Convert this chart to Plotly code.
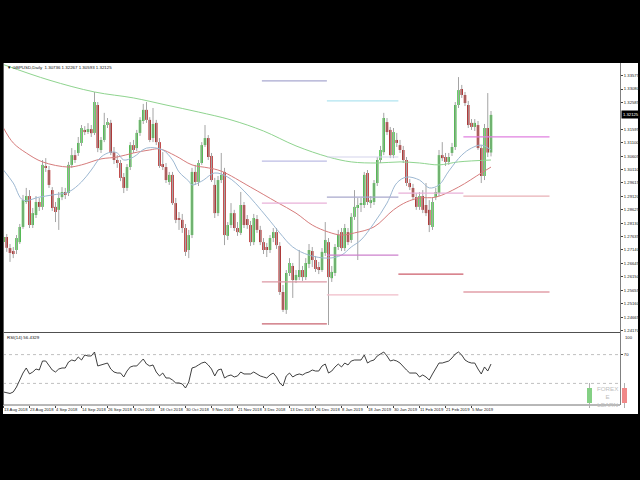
import plotly.graph_objects as go

# ---------------- data ----------------
opens = [1.2743, 1.2762, 1.2721, 1.2710, 1.2714, 1.2743, 1.2799, 1.2891, 1.2913, 1.2806,
         1.2843, 1.2891, 1.2873, 1.3024, 1.3009, 1.2935, 1.2873, 1.2862, 1.2909, 1.2928,
         1.2924, 1.3028, 1.3064, 1.3072, 1.3109, 1.3157, 1.3153, 1.3160, 1.3146, 1.3249,
         1.3083, 1.3120, 1.3175, 1.3183, 1.3075, 1.3046, 1.3035, 1.2983, 1.2943, 1.3020,
         1.3101, 1.3090, 1.3146, 1.3190, 1.3231, 1.3194, 1.3127, 1.3183, 1.3112, 1.3031,
         1.3020, 1.2965, 1.2991, 1.2887, 1.2832, 1.2825, 1.2795, 1.2714, 1.2769, 1.3002,
         1.2965, 1.3035, 1.3101, 1.3127, 1.3061, 1.2954, 1.2850, 1.2972, 1.3002, 1.2766,
         1.2806, 1.2850, 1.2795, 1.2777, 1.2880, 1.2828, 1.2806, 1.2743, 1.2828, 1.2788,
         1.2743, 1.2725, 1.2714, 1.2758, 1.2780, 1.2729, 1.2559, 1.2493, 1.2629, 1.2655,
         1.2603, 1.2614, 1.2640, 1.2614, 1.2662, 1.2710, 1.2677, 1.2651, 1.2640, 1.2703,
         1.2743, 1.2610, 1.2629, 1.2725, 1.2780, 1.2721, 1.2780, 1.2751, 1.2836, 1.2869,
         1.2880, 1.2880, 1.2998, 1.2887, 1.2891, 1.2961, 1.3046, 1.3075, 1.3186, 1.3157,
         1.3064, 1.3120, 1.3101, 1.3083, 1.3046, 1.2961, 1.2943, 1.2909, 1.2873, 1.2913,
         1.2880, 1.2862, 1.2799, 1.2909, 1.2924, 1.3064, 1.3057, 1.3039, 1.3072, 1.3094,
         1.3249, 1.3308, 1.3286, 1.3249, 1.3183, 1.3168, 1.3175, 1.3090, 1.2987, 1.3164,
         1.30736]
highs = [1.2780, 1.2773, 1.2736, 1.2725, 1.2769, 1.2810, 1.2917, 1.2943, 1.2935, 1.2869,
         1.2913, 1.2906, 1.3046, 1.3053, 1.3024, 1.2946, 1.2891, 1.2928, 1.2946, 1.2943,
         1.3039, 1.3090, 1.3083, 1.3131, 1.3175, 1.3171, 1.3182, 1.3175, 1.3297, 1.3260,
         1.3131, 1.3220, 1.3201, 1.3194, 1.3094, 1.3064, 1.3046, 1.2998, 1.3031, 1.3112,
         1.3120, 1.3157, 1.3204, 1.3253, 1.3260, 1.3204, 1.3238, 1.3194, 1.3127, 1.3075,
         1.3035, 1.3002, 1.3002, 1.2906, 1.2854, 1.2847, 1.2810, 1.2788, 1.3017, 1.3028,
         1.3046, 1.3112, 1.3175, 1.3138, 1.3072, 1.2980, 1.2987, 1.3072, 1.3017, 1.2817,
         1.2887, 1.2862, 1.2817, 1.2928, 1.2891, 1.2843, 1.2821, 1.2847, 1.2843, 1.2803,
         1.2758, 1.2740, 1.2769, 1.2795, 1.2795, 1.2743, 1.2585, 1.2640, 1.2684, 1.2666,
         1.2640, 1.2714, 1.2655, 1.2684, 1.2736, 1.2725, 1.2692, 1.2670, 1.2721, 1.2817,
         1.2758, 1.2655, 1.2736, 1.2788, 1.2795, 1.2810, 1.2795, 1.2850, 1.2935, 1.2906,
         1.2906, 1.3002, 1.3009, 1.2913, 1.2972, 1.3057, 1.3098, 1.3220, 1.3201, 1.3168,
         1.3164, 1.3146, 1.3120, 1.3098, 1.3057, 1.2976, 1.2958, 1.2924, 1.2928, 1.2935,
         1.2961, 1.2898, 1.2906, 1.2943, 1.3083, 1.3112, 1.3072, 1.3072, 1.3109, 1.3260,
         1.3352, 1.3323, 1.3297, 1.3264, 1.3197, 1.3197, 1.3190, 1.3101, 1.3179, 1.3293,
         1.32267]
lows = [1.2729, 1.2707, 1.2670, 1.2684, 1.2699, 1.2736, 1.2792, 1.2884, 1.2795, 1.2795,
        1.2832, 1.2858, 1.2862, 1.3002, 1.2943, 1.2858, 1.2817, 1.2788, 1.2898, 1.2902,
        1.2913, 1.3017, 1.3035, 1.3061, 1.3098, 1.3138, 1.3142, 1.3131, 1.3138, 1.3075,
        1.3072, 1.3112, 1.3164, 1.3064, 1.3031, 1.3017, 1.2968, 1.2924, 1.2932, 1.3009,
        1.3072, 1.3079, 1.3135, 1.3179, 1.3183, 1.3112, 1.3112, 1.3101, 1.3017, 1.3009,
        1.2961, 1.2954, 1.2880, 1.2813, 1.2788, 1.2777, 1.2692, 1.2684, 1.2758, 1.2954,
        1.2950, 1.3028, 1.3094, 1.3046, 1.2965, 1.2832, 1.2839, 1.2961, 1.2732, 1.2751,
        1.2795, 1.2784, 1.2766, 1.2769, 1.2795, 1.2792, 1.2729, 1.2732, 1.2777, 1.2732,
        1.2699, 1.2688, 1.2703, 1.2743, 1.2718, 1.2548, 1.2485, 1.2478, 1.2618, 1.2537,
        1.2592, 1.2603, 1.2600, 1.2603, 1.2647, 1.2651, 1.2633, 1.2625, 1.2633, 1.2692,
        1.2437, 1.2596, 1.2618, 1.2714, 1.2710, 1.2710, 1.2732, 1.2740, 1.2825, 1.2677,
        1.2854, 1.2869, 1.2880, 1.2869, 1.2880, 1.2950, 1.3035, 1.3064, 1.3138, 1.3053,
        1.3053, 1.3094, 1.3072, 1.3035, 1.2950, 1.2935, 1.2898, 1.2862, 1.2862, 1.2850,
        1.2839, 1.2780, 1.2788, 1.2898, 1.2913, 1.3042, 1.3024, 1.3028, 1.3061, 1.3083,
        1.3238, 1.3275, 1.3245, 1.3164, 1.3157, 1.3153, 1.3083, 1.2961, 1.2972, 1.3057,
        1.30593]
closes = [1.2762, 1.2722, 1.2703, 1.2699, 1.2758, 1.2799, 1.2898, 1.2913, 1.2806, 1.2850,
          1.2891, 1.2873, 1.3028, 1.3017, 1.2954, 1.2869, 1.2854, 1.2906, 1.2928, 1.2917,
          1.3028, 1.3064, 1.3046, 1.3109, 1.3164, 1.3149, 1.3160, 1.3145, 1.3260, 1.3090,
          1.3120, 1.3175, 1.3186, 1.3072, 1.3046, 1.3035, 1.2980, 1.2943, 1.3020, 1.3101,
          1.3083, 1.3146, 1.3194, 1.3231, 1.3194, 1.3120, 1.3179, 1.3112, 1.3024, 1.3020,
          1.2972, 1.2991, 1.2887, 1.2825, 1.2825, 1.2795, 1.2707, 1.2769, 1.3002, 1.2965,
          1.3035, 1.3101, 1.3127, 1.3057, 1.2972, 1.2850, 1.2972, 1.2991, 1.2769, 1.2806,
          1.2850, 1.2795, 1.2780, 1.2880, 1.2806, 1.2806, 1.2743, 1.2832, 1.2788, 1.2743,
          1.2714, 1.2714, 1.2758, 1.2780, 1.2732, 1.2559, 1.2493, 1.2629, 1.2666, 1.2603,
          1.2622, 1.2640, 1.2614, 1.2666, 1.2714, 1.2677, 1.2644, 1.2640, 1.2707, 1.2751,
          1.2614, 1.2633, 1.2725, 1.2769, 1.2721, 1.2795, 1.2743, 1.2836, 1.2873, 1.2880,
          1.2887, 1.2991, 1.2891, 1.2898, 1.2961, 1.3046, 1.3083, 1.3201, 1.3149, 1.3064,
          1.3149, 1.3109, 1.3083, 1.3046, 1.2961, 1.2946, 1.2909, 1.2873, 1.2913, 1.2862,
          1.2850, 1.2806, 1.2891, 1.2928, 1.3064, 1.3053, 1.3039, 1.3057, 1.3094, 1.3249,
          1.3304, 1.3286, 1.3256, 1.3175, 1.3168, 1.3183, 1.3090, 1.2987, 1.3164, 1.30736,
          1.32125]

rsi = [18.1, 16.7, 16.0, 18.1, 25.0, 34.7, 44.4, 51.4, 43.1, 45.8,
       50.0, 48.6, 61.1, 61.1, 55.6, 48.6, 45.8, 50.0, 51.4, 51.4,
       59.7, 62.5, 61.1, 66.7, 62.5, 69.4, 68.1, 68.1, 73.6, 54.2,
       55.6, 56.9, 58.3, 50.0, 45.8, 44.4, 44.4, 38.9, 47.2, 52.8,
       54.2, 54.2, 59.7, 63.9, 56.9, 54.2, 55.6, 45.8, 40.3, 44.4,
       37.5, 37.5, 34.7, 30.6, 30.6, 29.2, 23.6, 31.9, 51.4, 52.8,
       55.6, 58.3, 59.7, 55.6, 50.0, 40.3, 48.6, 50.0, 37.5, 40.3,
       41.7, 38.9, 40.3, 45.8, 43.1, 43.1, 43.1, 45.8, 43.1, 40.3,
       38.9, 37.5, 41.7, 44.4, 38.9, 30.6, 26.4, 40.3, 44.4, 38.9,
       41.7, 43.1, 41.7, 44.4, 45.8, 48.6, 47.2, 47.2, 54.2, 56.9,
       44.4, 47.2, 52.8, 56.9, 52.8, 58.3, 55.6, 61.1, 62.5, 62.5,
       62.5, 69.4, 58.3, 61.1, 62.5, 68.1, 70.8, 73.6, 68.1, 61.1,
       62.5, 61.1, 58.3, 52.8, 48.6, 44.4, 44.4, 44.4, 38.9, 41.7,
       38.9, 34.7, 43.1, 50.0, 58.3, 58.3, 59.7, 61.1, 65.3, 70.8,
       73.6, 69.4, 62.5, 59.7, 58.3, 58.3, 50.0, 43.1, 52.8, 47.2,
       56.9]
rsi_levels = [70, 30]

ma_green_idx = [0, 14, 28, 40, 50, 60, 70, 80, 90, 100, 107, 115, 122, 128, 134, 140, 150]
ma_green = [1.3398, 1.3341, 1.3297, 1.3275, 1.3249, 1.3223, 1.3194, 1.3153, 1.3098, 1.3057,
            1.3039, 1.3035, 1.3039, 1.3035, 1.3028, 1.3039, 1.3046]
ma_red_idx = [0, 3, 7, 12, 20, 24, 30, 35, 40, 45, 48, 53, 58, 63, 67, 76, 84, 90, 95, 100,
              104, 108, 114, 120, 124, 128, 133, 140, 147, 150]
ma_red = [1.3164, 1.3109, 1.3072, 1.3039, 1.3020, 1.3028, 1.3050, 1.3057, 1.3072, 1.3083,
          1.3087, 1.3061, 1.3028, 1.3017, 1.3005, 1.2946, 1.2891, 1.2850, 1.2806, 1.2780,
          1.2769, 1.2777, 1.2799, 1.2862, 1.2891, 1.2906, 1.2909, 1.2946, 1.2998, 1.3020]
ma_blue_idx = [0, 3, 6, 11, 15, 20, 24, 27, 30, 33, 35, 37, 40, 44, 49, 52, 54, 57, 58, 61,
               65, 69, 74, 81, 85, 89, 94, 100, 104, 107, 110, 114, 118, 121, 124, 128, 131,
               134, 137, 141, 144, 147, 150]
ma_blue = [1.3009, 1.2961, 1.2898, 1.2909, 1.2917, 1.2928, 1.2965, 1.3009, 1.3057, 1.3075,
           1.3072, 1.3046, 1.3057, 1.3090, 1.3083, 1.3046, 1.3002, 1.2968, 1.2954, 1.2968,
           1.2998, 1.2983, 1.2932, 1.2836, 1.2777, 1.2725, 1.2695, 1.2684, 1.2695, 1.2725,
           1.2751, 1.2813, 1.2887, 1.2961, 1.2983, 1.2972, 1.2943, 1.2954, 1.3005, 1.3064,
           1.3090, 1.3101, 1.3083]

pivot_start = [79.5, 99.5, 121.5, 141.5]
pivot_end = [99.5, 121.5, 141.5, 168.0]
pivot_dec = [1.3338, 1.3042, 1.2887, 1.2596, 1.2441]
pivot_jan = [1.3264, 1.3057, 1.2909, 1.2695, 1.2548]
pivot_feb = [1.2924, 1.2625]
pivot_mar = [1.3131, 1.2913, 1.2559]
pivot_colors = [
    ['#a8a8d0', '#bcbce4', '#e8b0d8', '#dc98a4', '#c86470'],
    ['#b0e4f0', '#d4d4ec', '#a8a8cc', '#cc80cc', '#f0bcc8'],
    ['#e8b0d8', '#cc5c6a'],
    ['#e080e0', '#e8b0b6', '#d4707e'],
]

date_idx = list(range(0, 145, 8))
date_labels = ["13 Aug 2018", "23 Aug 2018", "4 Sep 2018", "14 Sep 2018", "26 Sep 2018",
               "8 Oct 2018", "18 Oct 2018", "30 Oct 2018", "9 Nov 2018", "21 Nov 2018",
               "3 Dec 2018", "13 Dec 2018", "26 Dec 2018", "8 Jan 2019", "18 Jan 2019",
               "30 Jan 2019", "11 Feb 2019", "21 Feb 2019", "5 Mar 2019"]
price_ticks = [1.33575, 1.33080, 1.32585, 1.31595, 1.31100, 1.30605, 1.30110, 1.29615,
               1.29120, 1.28625, 1.28130, 1.27635, 1.27140, 1.26645, 1.26150, 1.25655,
               1.25160, 1.24665, 1.24170]
rsi_ticks = [70]
rsi_top_label = "100"
symbol = "GBPUSD,Daily"
rsi_name = "RSI(14) 56.4329"
logo_lines = ["FOREX", "E", "LEARN"]

# ---------------- figure ----------------
def px_x(p):
    return p / 640.0


def px_y(p):
    return 1 - p / 480.0


FONT = "Liberation Sans, Arial, sans-serif"
n = len(closes)
idx = list(range(n))
XR = [-0.154, 189.69]

fig = go.Figure()

# wicks
wx, wy = [], []
for i in idx:
    wx += [i, i, None]
    wy += [lows[i], highs[i], None]
fig.add_trace(go.Scatter(x=wx, y=wy, mode="lines", line=dict(color="#a4a4a4", width=1),
                         hoverinfo="skip", xaxis="x", yaxis="y"))

# moving averages
for xi, yv, col in [(ma_green_idx, ma_green, "#8fd48f"),
                    (ma_red_idx, ma_red, "#d67c7c"),
                    (ma_blue_idx, ma_blue, "#9db8d2")]:
    fig.add_trace(go.Scatter(x=xi, y=yv, mode="lines", line=dict(color=col, width=1, shape="spline"),
                             hoverinfo="skip", xaxis="x", yaxis="y"))

# pivot levels
for m, levels in enumerate([pivot_dec, pivot_jan, pivot_feb, pivot_mar]):
    for k, lv in enumerate(levels):
        fig.add_trace(go.Scatter(x=[pivot_start[m], pivot_end[m]], y=[lv, lv], mode="lines",
                                 line=dict(color=pivot_colors[m][k], width=1.2),
                                 hoverinfo="skip", xaxis="x", yaxis="y"))

# candle bodies
for up, color in [(True, "#3cc03c"), (False, "#b01818")]:
    xs, base, hgt = [], [], []
    for i in idx:
        o, c = opens[i], closes[i]
        if (c >= o) == up:
            xs.append(i)
            base.append(min(o, c))
            hgt.append(max(abs(c - o), 0.00015))
    fig.add_trace(go.Bar(x=xs, y=hgt, base=base, width=0.78,
                         marker=dict(color=color, line=dict(width=0)),
                         hoverinfo="skip", xaxis="x", yaxis="y"))

# RSI
for lv in rsi_levels:
    fig.add_trace(go.Scatter(x=XR, y=[lv, lv], mode="lines",
                             line=dict(color="#c0c0c0", width=1, dash="dot"),
                             hoverinfo="skip", xaxis="x2", yaxis="y2"))
fig.add_trace(go.Scatter(x=idx, y=rsi, mode="lines", line=dict(color="#2a2a2a", width=0.9),
                         hoverinfo="skip", xaxis="x2", yaxis="y2"))

tickfont = dict(family=FONT, size=4.2, color="#202020")
fig.update_layout(
    width=640, height=480, margin=dict(l=0, r=0, t=0, b=0), autosize=False,
    paper_bgcolor="black", plot_bgcolor="white", showlegend=False, barmode="overlay",
    xaxis=dict(domain=[px_x(3), px_x(620)], range=XR, showticklabels=False, showgrid=False,
               zeroline=False, anchor="y", fixedrange=True),
    yaxis=dict(domain=[px_y(332), px_y(64)], range=[1.241133, 1.340025], side="right",
               tickvals=price_ticks, ticktext=["%.5f" % v for v in price_ticks],
               ticks="outside", ticklen=2, tickcolor="#404040", tickfont=tickfont,
               showgrid=False, zeroline=False, anchor="x"),
    xaxis2=dict(domain=[px_x(3), px_x(620)], range=XR, tickvals=date_idx, ticktext=date_labels,
                ticks="outside", ticklen=2, tickcolor="#404040", tickfont=tickfont,
                tickangle=0, ticklabelposition="outside right", showgrid=False, zeroline=False,
                anchor="y2"),
    yaxis2=dict(domain=[px_y(405), px_y(333)], range=[0, 100], side="right",
                tickvals=rsi_ticks, ticktext=[str(v) for v in rsi_ticks],
                ticks="outside", ticklen=2, tickcolor="#404040", tickfont=tickfont,
                showgrid=False, zeroline=False, anchor="x2"),
)

shapes = [
    dict(type="rect", xref="paper", yref="paper", x0=px_x(3), x1=px_x(638), y0=px_y(414), y1=px_y(63),
         fillcolor="white", line=dict(width=0), layer="below"),
    dict(type="line", xref="paper", yref="paper", x0=px_x(3), x1=px_x(620), y0=px_y(332.5), y1=px_y(332.5),
         line=dict(color="#505050", width=1)),
    dict(type="line", xref="paper", yref="paper", x0=px_x(3), x1=px_x(620), y0=px_y(405), y1=px_y(405),
         line=dict(color="#707070", width=1)),
    dict(type="line", xref="paper", yref="paper", x0=px_x(620.5), x1=px_x(620.5), y0=px_y(405), y1=px_y(63),
         line=dict(color="#808080", width=1)),
    dict(type="line", xref="paper", yref="paper", x0=px_x(3.5), x1=px_x(3.5), y0=px_y(405), y1=px_y(63),
         line=dict(color="#606060", width=1)),
    # watermark logo
    dict(type="line", xref="paper", yref="paper", x0=px_x(589.5), x1=px_x(589.5), y0=px_y(408), y1=px_y(383),
         line=dict(color="#b0b0b0", width=1)),
    dict(type="rect", xref="paper", yref="paper", x0=px_x(587), x1=px_x(592), y0=px_y(403), y1=px_y(388),
         fillcolor="#84d084", line=dict(width=0)),
    dict(type="line", xref="paper", yref="paper", x0=px_x(624.5), x1=px_x(624.5), y0=px_y(408), y1=px_y(383),
         line=dict(color="#b0b0b0", width=1)),
    dict(type="rect", xref="paper", yref="paper", x0=px_x(622), x1=px_x(627), y0=px_y(403), y1=px_y(388),
         fillcolor="#f08888", line=dict(width=0)),
]
fig.update_layout(shapes=shapes)

ann = [
    dict(x=px_x(5), y=px_y(68), xref="paper", yref="paper", xanchor="left", yanchor="middle",
         text="\u25bc " + symbol + "  " + " ".join("%.5f" % v for v in
                                                    [opens[-1], highs[-1], lows[-1], closes[-1]]),
         showarrow=False, font=dict(family=FONT, size=4.4, color="#101010")),
    dict(x=px_x(5), y=px_y(337), xref="paper", yref="paper", xanchor="left", yanchor="middle",
         text=rsi_name, showarrow=False, font=dict(family=FONT, size=4.4, color="#101010")),
    dict(x=px_x(621), y=px_y(114), xref="paper", yref="paper", xanchor="left", yanchor="middle",
         text="%.5f" % closes[-1], showarrow=False, bgcolor="black", borderpad=1,
         font=dict(family=FONT, size=4.2, color="white")),
    dict(x=px_x(623), y=px_y(337), xref="paper", yref="paper", xanchor="left", yanchor="middle",
         text=rsi_top_label, showarrow=False, font=tickfont),
    dict(x=px_x(607), y=px_y(396), xref="paper", yref="paper", xanchor="center", yanchor="middle",
         text="<br>".join(logo_lines), showarrow=False, borderpad=0, align="center",
         font=dict(family=FONT, size=6.2, color="#c0c0c0")),
]
fig.update_layout(annotations=ann)

fig.write_html("out.html", config={"displayModeBar": False},
               post_script="document.body.style.margin='0';document.body.style.padding='0';document.body.style.background='black';")
